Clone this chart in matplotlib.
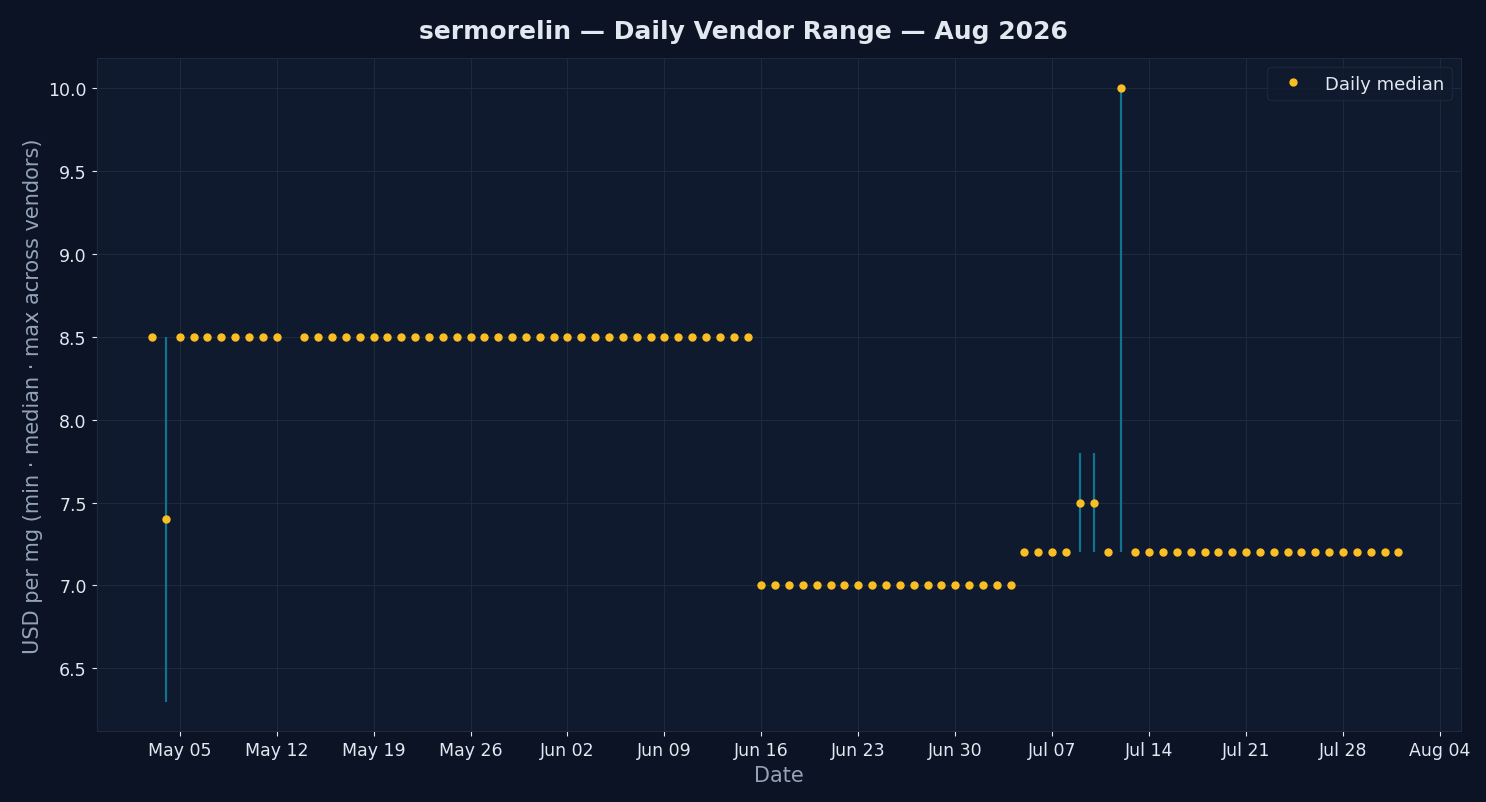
import matplotlib
matplotlib.use("Agg")
import matplotlib.pyplot as plt
import matplotlib.dates as mdates
import pandas as pd

# dates (May 13 missing)
dates = [d for d in pd.date_range("2026-05-03", "2026-08-01") if d != pd.Timestamp("2026-05-13")]
medians = ([8.5, 7.4] + [8.5]*8 + [8.5]*33 +   # May 3 .. Jun 15
           [7.0]*19 +                          # Jun 16 .. Jul 4
           [7.2, 7.2, 7.2, 7.2, 7.5, 7.5, 7.2, 10.0] +  # Jul 5 .. Jul 12
           [7.2]*20)                           # Jul 13 .. Aug 1
mins = list(medians)
maxs = list(medians)
range_days = {"2026-05-04": (6.3, 8.5), "2026-07-09": (7.2, 7.8),
              "2026-07-10": (7.2, 7.8), "2026-07-12": (7.2, 10.0)}
for i, d in enumerate(dates):
    k = d.strftime("%Y-%m-%d")
    if k in range_days:
        mins[i], maxs[i] = range_days[k]

fig = plt.figure(figsize=(14.86, 8.03), dpi=100, facecolor="#0b1324")
ax = fig.add_axes([0.065, 0.088, 0.918, 0.838], facecolor="#0f1a2e")
ax.vlines(dates, mins, maxs, color="#0e7490", lw=1.6)
ax.plot(dates, medians, "o", color="#fbbf24", ms=5, ls="none", label="Daily median")
ax.set_ylim(6.12, 10.18)
ax.set_xlim(pd.Timestamp("2026-04-29"), pd.Timestamp("2026-08-05 12:00"))
ax.xaxis.set_major_locator(mdates.WeekdayLocator(byweekday=mdates.TU))
ax.xaxis.set_major_formatter(mdates.DateFormatter("%b %d"))
ax.set_yticks([6.5, 7.0, 7.5, 8.0, 8.5, 9.0, 9.5, 10.0])
ax.grid(True, color="#1e293b", lw=0.8)
ax.set_axisbelow(True)
for s in ax.spines.values():
    s.set_color("#1e293b")
ax.tick_params(colors="#e2e8f0", labelsize=12.5)
ax.set_xlabel("Date", color="#94a3b8", fontsize=15)
ax.set_ylabel("USD per mg (min · median · max across vendors)", color="#94a3b8", fontsize=15)
fig.suptitle("sermorelin — Daily Vendor Range — Aug 2026", color="#e2e8f0",
             fontsize=18, fontweight="bold", y=0.975)
leg = ax.legend(loc="upper right", fontsize=13, facecolor="#0f1a2e",
                edgecolor="#1e293b", labelcolor="#e2e8f0")
fig.savefig("out.png", facecolor=fig.get_facecolor())
